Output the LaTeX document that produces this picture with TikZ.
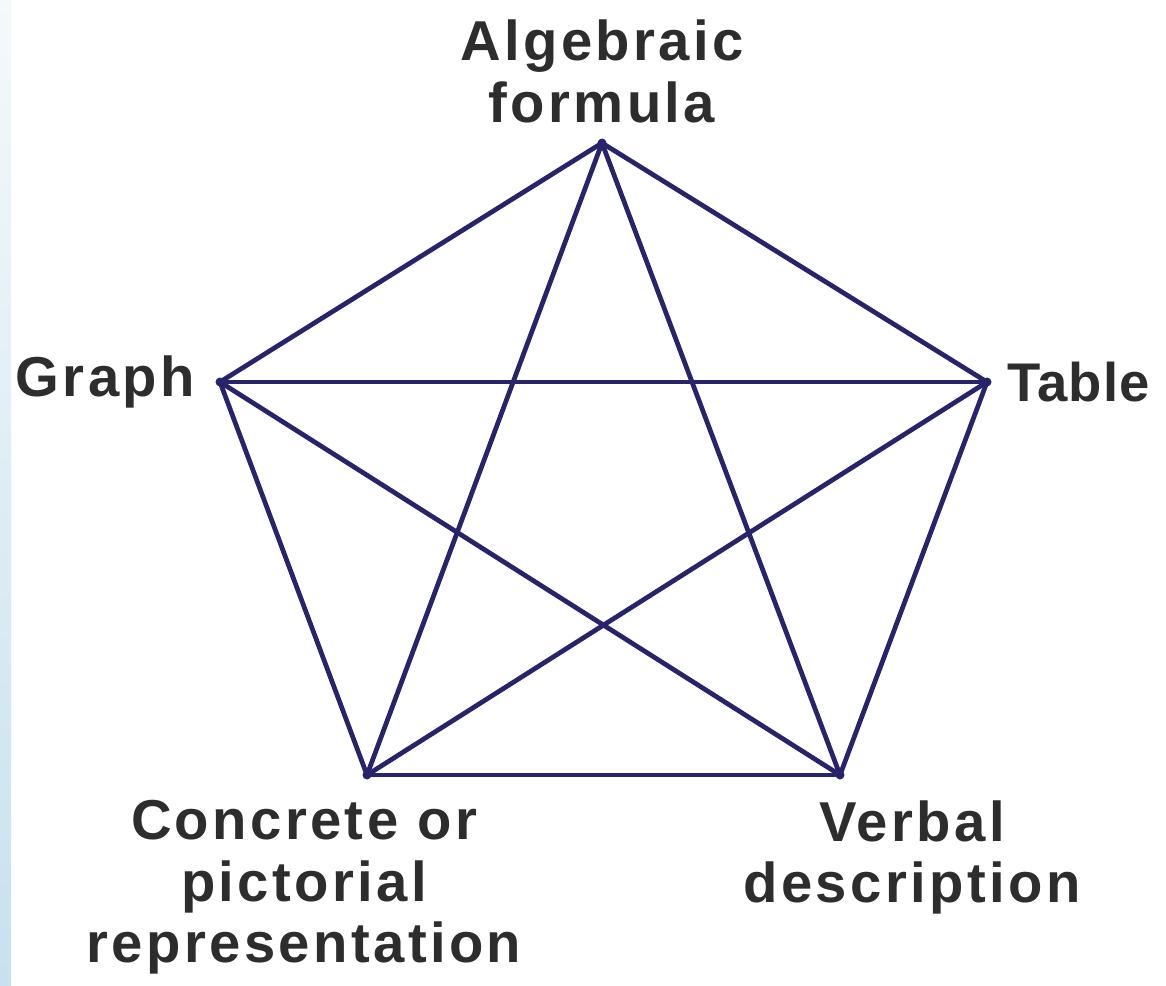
\documentclass[tikz,border=0pt]{standalone}
\usepackage{fontspec}
\setmainfont{Liberation Sans}[LetterSpace=6]
\usepackage{tikz}
\usetikzlibrary{positioning}
\definecolor{edgenavy}{RGB}{40,36,108}
\definecolor{labelgray}{RGB}{45,45,45}
\definecolor{stripblue}{RGB}{200,225,238}

\begin{document}
\begin{tikzpicture}[x=0.02cm, y=-0.02cm,
    vertex/.style={circle, fill=edgenavy, inner sep=0pt, minimum size=0.18cm},
    rep/.style={font=\fontsize{32}{35}\selectfont\bfseries, text=labelgray, align=center, inner sep=0pt},
    edge/.style={draw=edgenavy, line width=2.7pt}
]
\useasboundingbox (0,0) rectangle (1166,985);
\fill[white] (0,0) rectangle (1166,985);
\shade[top color=white!80!stripblue, bottom color=stripblue] (0,0) rectangle (11,985);
% the five representations
\node[vertex] (alg) at (602,143) {};
\node[vertex] (gra) at (220,382) {};
\node[vertex] (tab) at (987,382) {};
\node[vertex] (con) at (367,775) {};
\node[vertex] (ver) at (840,775) {};
\node[rep, above=0.3cm of alg] (alglab) {Algebraic\\formula};
\node[rep, left=0.4cm of gra] (gralab) {Graph};
\node[rep, right=0.3cm of tab, font=\fontsize{31}{35}\selectfont\bfseries\addfontfeatures{LetterSpace=2}] (tablab) {Table};
\node[rep, anchor=north] (conlab) at (304,800) {Concrete or\\pictorial\\representation};
\node[rep, anchor=north] (verlab) at (912,800) {Verbal\\description};
% every pair is linked
\foreach \a/\b in {alg/gra, alg/tab, alg/con, alg/ver, gra/tab, gra/con, gra/ver, tab/con, tab/ver, con/ver}
  \draw[edge] (\a.center) -- (\b.center);
\end{tikzpicture}
\end{document}
